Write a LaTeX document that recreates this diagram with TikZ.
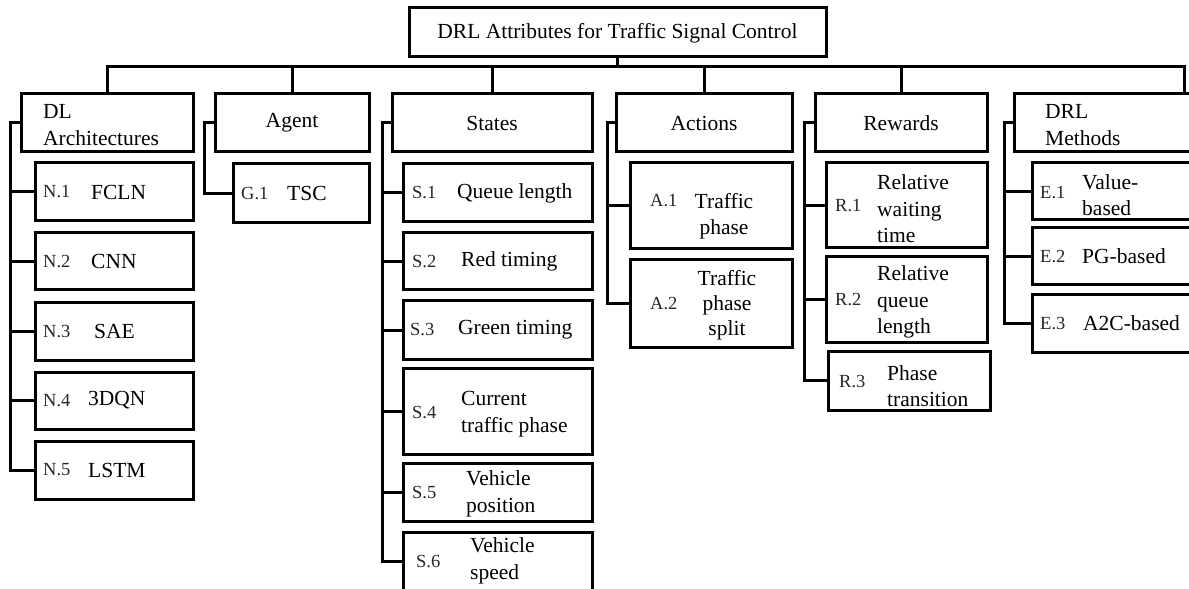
\documentclass[tikz,border=0pt]{standalone}
\usepackage{fontspec}
\setmainfont{Liberation Serif}[Ligatures=NoCommon]
\usetikzlibrary{fit}
\begin{document}
\begin{tikzpicture}[x=1bp,y=-1bp,
  box/.style={draw, line width=3bp, inner sep=0pt},
  txt/.style={inner sep=0pt, font=\fontsize{21.5bp}{26.5bp}\selectfont},
  pre/.style={inner sep=0pt, font=\fontsize{18.5bp}{22bp}\selectfont, text=black!85},
  link/.style={line width=3bp, line join=miter}]
\useasboundingbox (0,0) rectangle (1189,589);
\newcommand\cbox[5]{\node[box, fit={(#2,#3) (#4,#5)}] (#1) {};}
% title
\cbox{title}{409}{8}{826}{57}
\node[txt] (titlet) at (617.5,33) {DRL Attributes for Traffic Signal Control};
% headers
\cbox{dl}{21}{94}{193}{152}
\node[txt, anchor=west, align=left] (dlt) at (43,125) {DL\\Architectures};
\cbox{agent}{215}{94}{369}{152}
\node[txt] (agentt) at (292,123) {Agent};
\cbox{states}{392}{94}{592}{152}
\node[txt] (statest) at (492,123) {States};
\cbox{actions}{616}{94}{792}{152}
\node[txt] (actionst) at (704,123) {Actions};
\cbox{rewards}{815}{94}{987}{152}
\node[txt] (rewardst) at (901,123) {Rewards};
\cbox{drlm}{1014}{94}{1195}{152}
\node[txt, anchor=west, align=left] (drlmt) at (1045,125) {DRL\\Methods};
\coordinate (drltop) at (1184,94);
% bus
\coordinate (bus) at (618,67);
\draw[link] (dl.north) |- (bus) -| (drltop);
\draw[link] (title.south) -- (title.south |- bus);
\foreach \h in {agent,states,actions,rewards}{\draw[link] (\h.north |- bus) -- (\h.north);}
% DL children
\cbox{n1}{35}{163}{193}{221}
\cbox{n2}{35}{233}{193}{290}
\cbox{n3}{35}{303}{193}{360}
\cbox{n4}{35}{372}{193}{429}
\cbox{n5}{35}{441}{193}{499}
\node[pre, anchor=west] (n1p) at (n1 -| 43,0) {N.1};
\node[txt, anchor=west] (n1t) at (n1 -| 91,0) {FCLN};
\node[pre, anchor=west] (n2p) at (n2 -| 43,0) {N.2};
\node[txt, anchor=west] (n2t) at (n2 -| 91,0) {CNN};
\node[pre, anchor=west] (n3p) at (n3 -| 43,0) {N.3};
\node[txt, anchor=west] (n3t) at (n3 -| 94,0) {SAE};
\node[pre, anchor=west] (n4p) at (n4 -| 43,0) {N.4};
\node[txt, anchor=west] (n4t) at (n4 -| 88,0) {3DQN};
\node[pre, anchor=west] (n5p) at (n5 -| 43,0) {N.5};
\node[txt, anchor=west] (n5t) at (n5 -| 88,0) {LSTM};
\coordinate (dlsp) at (10,0);
\draw[link] (dl.west) -- (dl.west -| dlsp) |- (n5.west);
\foreach \c in {n1,n2,n3,n4}{\draw[link] (\c.west) -- (\c.west -| dlsp);}
% Agent
\cbox{g1}{233}{164}{369}{223}
\node[pre, anchor=west] (g1p) at (g1 -| 241,0) {G.1};
\node[txt, anchor=west] (g1t) at (g1 -| 287,0) {TSC};
\coordinate (agsp) at (204,0);
\draw[link] (agent.west) -- (agent.west -| agsp) |- (g1.west);
% States
\cbox{s1}{403}{164}{592}{222}
\cbox{s2}{403}{233}{592}{290}
\cbox{s3}{403}{301}{592}{359}
\cbox{s4}{403}{368}{592}{454}
\cbox{s5}{403}{463}{592}{521}
\cbox{s6}{403}{532}{592}{590}
\node[pre, anchor=west] (s1p) at (s1 -| 412,0) {S.1};
\node[txt, anchor=west] (s1t) at (s1 -| 457,0) {Queue length};
\node[pre, anchor=west] (s2p) at (s2 -| 412,0) {S.2};
\node[txt, anchor=west] (s2t) at (s2 -| 461,0) {Red timing};
\node[pre, anchor=west] (s3p) at (s3 -| 410,0) {S.3};
\node[txt, anchor=west] (s3t) at (s3 -| 458,0) {Green timing};
\node[pre, anchor=west] (s4p) at (412,413) {S.4};
\node[txt, anchor=west, align=left] (s4t) at (461,414) {Current\\traffic phase};
\node[pre, anchor=west] (s5p) at (412,493) {S.5};
\node[txt, anchor=west, align=left] (s5t) at (466,494) {Vehicle\\position};
\node[pre, anchor=west] (s6p) at (416,562) {S.6};
\node[txt, anchor=west, align=left] (s6t) at (470,561) {Vehicle\\speed};
\coordinate (stsp) at (382,0);
\draw[link] (states.west) -- (states.west -| stsp) |- (s6.west);
\foreach \c in {s1,s2,s3,s4,s5}{\draw[link] (\c.west) -- (\c.west -| stsp);}
% Actions
\cbox{a1}{630}{163}{792}{249}
\cbox{a2}{630}{260}{792}{347}
\node[pre, anchor=west] (a1p) at (650,201) {A.1};
\node[txt, align=center] (a1t) at (724,216) {Traffic\\phase};
\node[pre, anchor=west] (a2p) at (650,304) {A.2};
\node[txt, align=center, font=\fontsize{21.5bp}{25bp}\selectfont] (a2t) at (727,305) {Traffic\\phase\\split};
\coordinate (acsp) at (607,0);
\draw[link] (actions.west) -- (actions.west -| acsp) |- (a2.west);
\draw[link] (a1.west) -- (a1.west -| acsp);
% Rewards
\cbox{r1}{826}{163}{987}{248}
\cbox{r2}{826}{257}{987}{342}
\cbox{r3}{828}{351}{990}{410}
\node[pre, anchor=west] (r1p) at (835,206) {R.1};
\node[txt, anchor=west, align=left] (r1t) at (877,209) {Relative\\waiting\\time};
\node[pre, anchor=west] (r2p) at (835,300) {R.2};
\node[txt, anchor=west, align=left] (r2t) at (877,302) {Relative\\queue\\length};
\node[pre, anchor=west] (r3p) at (839,382) {R.3};
\node[txt, anchor=west, align=left] (r3t) at (887,386) {Phase\\transition};
\coordinate (rwsp) at (804,0);
\draw[link] (rewards.west) -- (rewards.west -| rwsp) |- (r3.west);
\foreach \c in {r1,r2}{\draw[link] (\c.west) -- (\c.west -| rwsp);}
% DRL methods
\cbox{e1}{1032}{163}{1195}{220}
\cbox{e2}{1032}{228}{1195}{285}
\cbox{e3}{1032}{295}{1195}{352}
\node[pre, anchor=west] (e1p) at (1040,193) {E.1};
\node[txt, anchor=west, align=left] (e1t) at (1082,195) {Value-\\based};
\node[pre, anchor=west] (e2p) at (e2 -| 1040,0) {E.2};
\node[txt, anchor=west] (e2t) at (e2 -| 1082,0) {PG-based};
\node[pre, anchor=west] (e3p) at (e3 -| 1040,0) {E.3};
\node[txt, anchor=west] (e3t) at (e3 -| 1083,0) {A2C-based};
\coordinate (dmsp) at (1004,0);
\draw[link] (drlm.west) -- (drlm.west -| dmsp) |- (e3.west);
\foreach \c in {e1,e2}{\draw[link] (\c.west) -- (\c.west -| dmsp);}
\end{tikzpicture}
\end{document}
